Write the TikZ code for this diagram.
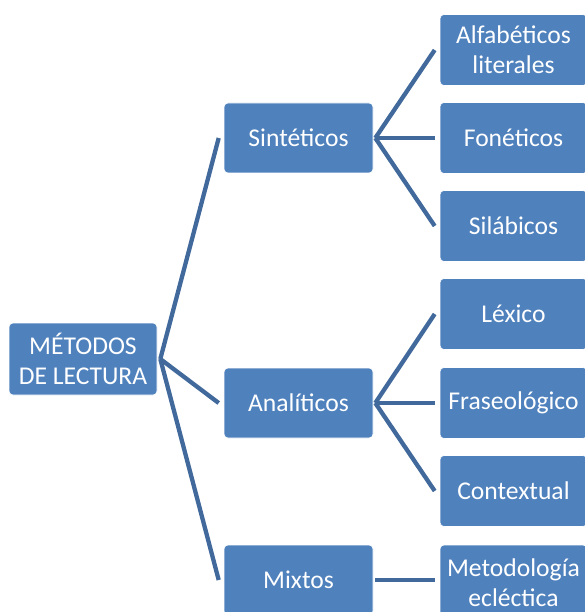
\documentclass[tikz,border=0pt]{standalone}
\usepackage{fontspec}
\setmainfont{Carlito}
\usepackage{tikz}
\usepackage{xcolor}
\definecolor{boxblue}{HTML}{4F81BD}
\definecolor{lineblue}{HTML}{41699C}

\begin{document}
\begin{tikzpicture}[x=1pt,y=-1pt,
	caja/.style={fill=boxblue,draw=white,line width=0.6pt,rounded corners=4pt,text=white,align=center,
		font=\fontsize{25.6}{30}\selectfont,inner sep=0pt},
	raiz/.style={caja,minimum width=148pt,minimum height=72pt},
	medio/.style={caja,minimum width=149pt,minimum height=70pt},
	hoja/.style={caja,minimum width=147pt,minimum height=71pt},
	conector/.style={draw=lineblue,line width=4.3pt}]

	\useasboundingbox (0,0) rectangle (585,612);
	\clip (0,0) rectangle (585,612);

	% nivel 1
	\node[raiz] (metodos) at (83,359) {MÉTODOS\\DE LECTURA};

	% nivel 2
	\node[medio] (sinteticos) at (298.5,138) {Sintéticos};
	\node[medio] (analiticos) at (298.5,403) {Analíticos};
	\node[medio] (mixtos) at (298.5,580) {Mixtos};

	% nivel 3
	\node[hoja] (alfabeticos) at (513.5,50) {Alfabéticos\\literales};
	\node[hoja] (foneticos) at (513.5,138) {Fonéticos};
	\node[hoja] (silabicos) at (513.5,226) {Silábicos};
	\node[hoja] (lexico) at (513.5,314) {Léxico};
	\node[hoja] (fraseologico) at (513.5,403) {Fraseológico};
	\node[hoja] (contextual) at (513.5,491) {Contextual};
	\node[hoja,minimum height=76pt] (eclectica) at (513.5,583) {Metodología\\ecléctica};

	% conectores
	\foreach \hijo in {sinteticos,analiticos,mixtos}
		\draw[conector] ([xshift=3pt]metodos.east) -- ([xshift=-5pt]\hijo.west);
	\foreach \hijo in {alfabeticos,foneticos,silabicos}
		\draw[conector] ([xshift=2pt]sinteticos.east) -- ([xshift=-5pt]\hijo.west);
	\foreach \hijo in {lexico,fraseologico,contextual}
		\draw[conector] ([xshift=2pt]analiticos.east) -- ([xshift=-5pt]\hijo.west);
	\draw[conector] ([xshift=2pt]mixtos.east) -- ([xshift=-5pt]eclectica.west |- mixtos.east);

\end{tikzpicture}
\end{document}
